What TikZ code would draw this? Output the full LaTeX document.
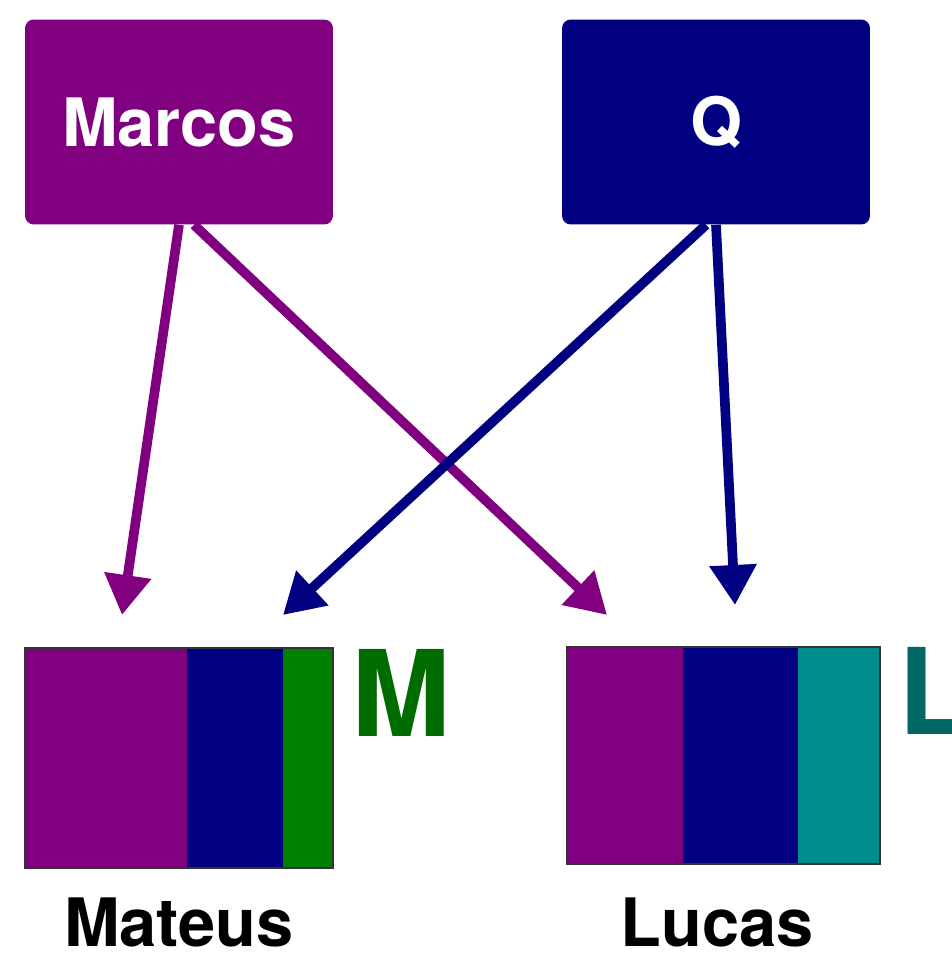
\documentclass[tikz,border=0pt]{standalone}
\usepackage[usenames,dvipsnames,svgnames,table]{xcolor}
\usepackage{fontspec}
\setmainfont{TeX Gyre Heros}
\usepackage{tikz}
\usetikzlibrary{arrows.meta}

\begin{document}
\begin{tikzpicture}[x=0.02cm,y=-0.02cm,
    parentbox/.style={rounded corners=5pt,minimum width=6.16cm,minimum height=4.1cm,text=white,font=\bfseries\fontsize{38}{38}\selectfont},
    barbox/.style={draw=black!80,line width=1pt,minimum width=6.16cm,minimum height=4.4cm},
    kidname/.style={font=\bfseries\fontsize{38}{38}\selectfont},
    gene/.style={font=\bfseries\fontsize{68}{68}\selectfont,inner sep=0pt},
    link/.style={line width=5.5pt,-{Triangle[length=0.8cm,width=0.9cm]}}]
        \useasboundingbox (0,0) rectangle (952,959);
        \node[parentbox,fill=Purple] (marcos) at (179,122) {Marcos};
        \node[parentbox,fill=Navy] (q) at (716,122) {Q};
        % faixas das barras
        \fill[Purple] (25,648) rectangle (187,868);
        \fill[Navy] (187,648) rectangle (283,868);
        \fill[Green] (283,648) rectangle (333,868);
        \fill[Purple] (567,647) rectangle (683,864);
        \fill[Navy] (683,647) rectangle (798,864);
        \fill[Teal!90!cyan] (798,647) rectangle (880,864);
        \node[barbox] (mateus) at (179,758) {};
        \node[barbox,minimum width=6.26cm,minimum height=4.34cm] (lucas) at (723.5,755.5) {};
        \node[gene,text=Green!85!black,anchor=west] (m) at (mateus.east) [xshift=0.35cm,yshift=1.3cm] {M};
        \node[gene,text=Teal!80!black,anchor=west] (l) at (lucas.east) [xshift=0.35cm,yshift=1.3cm] {L};
        \node[kidname] (mateusname) at (179,922) {Mateus};
        \node[kidname] (lucasname) at (717,922) {Lucas};
        \coordinate (matl) at (122,615);
        \coordinate (matr) at (283,615);
        \coordinate (lucl) at (607,615);
        \coordinate (lucr) at (735,605);
        \draw[link,Purple] ([xshift=0cm]marcos.south) -- (matl);
        \draw[link,Purple] ([xshift=0.3cm]marcos.south) -- (lucl);
        \draw[link,Navy] ([xshift=-0.2cm]q.south) -- (matr);
        \draw[link,Navy] ([xshift=0cm]q.south) -- (lucr);
    \end{tikzpicture}
\end{document}
